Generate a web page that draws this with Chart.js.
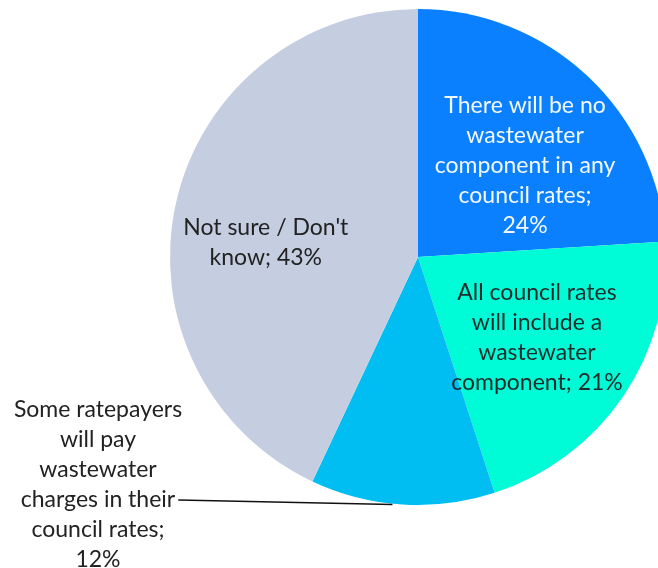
<!DOCTYPE html>
<html>
<head>
<meta charset="utf-8">
<script src="https://cdn.jsdelivr.net/npm/chart.js@4.4.1/dist/chart.umd.min.js"></script>
<style>
  html, body { margin: 0; padding: 0; background: #fff; overflow: hidden; }
  #wrap { width: 658px; height: 568px; position: relative; }
</style>
</head>
<body>
<div id="wrap"><canvas id="pieChart" width="658" height="568"></canvas></div>
<script>
const categories = [
  'There will be no wastewater component in any council rates',
  'All council rates will include a wastewater component',
  'Some ratepayers will pay wastewater charges in their council rates',
  "Not sure / Don't know"
];
const shares = [24, 21, 12, 43];
// wrapped label text as it appears on the chart
const labelLines = [
  ['There will be no', 'wastewater', 'component in any', 'council rates;', '24%'],
  ['All council rates', 'will include a', 'wastewater', 'component; 21%'],
  ['Some ratepayers', 'will pay', 'wastewater', 'charges in their', 'council rates;', '12%'],
  ['Not sure / Don\'t', 'know; 43%']
];
const sliceColors = ['#0A80FF', '#00FCD6', '#00BEF2', '#C5CEE1'];
const textColors = ['#F2F8FF', '#1F2A2A', '#222222', '#222222'];

const FONT = '23px Lato, "Open Sans", sans-serif';
const LINE_H = 30;

// where each label sits inside its slice: fraction of radius + small nudge
const labelPlacement = [
  { r: 0.56, dx: 12, dy: 10 },
  { r: 0.58, dx: 0, dy: 0 },
  null,
  { r: 0.60, dx: -7, dy: 18 }
];

const sliceLabels = {
  id: 'sliceLabels',
  afterDatasetsDraw(chart) {
    const ctx = chart.ctx;
    const arcs = chart.getDatasetMeta(0).data;
    ctx.save();
    ctx.font = FONT;
    ctx.textAlign = 'center';
    ctx.textBaseline = 'middle';
    arcs.forEach((arc, i) => {
      const { x, y, startAngle, endAngle, outerRadius } = arc.getProps(['x', 'y', 'startAngle', 'endAngle', 'outerRadius'], true);
      const mid = (startAngle + endAngle) / 2;
      const lines = labelLines[i];
      ctx.fillStyle = textColors[i];
      const p = labelPlacement[i];
      if (p) {
        const cx = x + Math.cos(mid) * outerRadius * p.r + p.dx;
        const cy = y + Math.sin(mid) * outerRadius * p.r + p.dy;
        const top = cy - (lines.length - 1) * LINE_H / 2;
        lines.forEach((t, k) => ctx.fillText(t, cx, top + k * LINE_H));
      } else {
        // outside label with a leader line to the slice edge
        const ex = x + Math.cos(mid) * outerRadius;
        const ey = y + Math.sin(mid) * outerRadius;
        const tx = 98, top = 410;
        lines.forEach((t, k) => ctx.fillText(t, tx, top + k * LINE_H));
        const lineRow = 3;
        const w = ctx.measureText(lines[lineRow]).width;
        ctx.strokeStyle = '#111';
        ctx.lineWidth = 1.5;
        ctx.beginPath();
        ctx.moveTo(tx + w / 2 + 3, top + lineRow * LINE_H);
        ctx.lineTo(ex - 10, ey);
        ctx.stroke();
      }
    });
    ctx.restore();
  }
};

new Chart(document.getElementById('pieChart'), {
  type: 'pie',
  data: {
    labels: categories,
    datasets: [{
      data: shares,
      backgroundColor: sliceColors,
      borderWidth: 0,
      radius: 248
    }]
  },
  options: {
    responsive: false,
    animation: false,
    rotation: 0,
    layout: { padding: { left: 178, right: 0, top: 0, bottom: 54 } },
    plugins: {
      legend: { display: false },
      tooltip: { enabled: false }
    }
  },
  plugins: [sliceLabels]
});
</script>
</body>
</html>
